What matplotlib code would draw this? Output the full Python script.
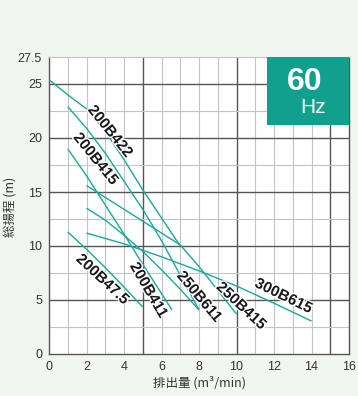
import matplotlib
matplotlib.use("Agg")
import matplotlib.pyplot as plt
import matplotlib.patheffects as pe
from matplotlib.patches import Rectangle

# ---- data ----
q_200B422 = [0, 1, 2, 3, 4, 5, 6, 7]
h_200B422 = [25.4, 24.0, 22.7, 20.6, 18.0, 15.2, 12.6, 10.0]
q_200B415 = [1, 2, 3, 4, 5, 6, 7, 8]
h_200B415 = [22.9, 20.9, 18.6, 16.0, 13.4, 10.5, 7.3, 4.1]
q_200B411 = [1, 2, 3, 4, 5, 6, 6.56]
h_200B411 = [19.0, 16.5, 13.8, 11.1, 8.3, 5.6, 4.07]
q_200B47 = [1, 2, 3, 4, 5]
h_200B47 = [11.3, 9.7, 8.0, 6.2, 4.35]
q_250B415 = [2, 3, 4, 5, 6, 7, 8, 9, 10]
h_250B415 = [15.6, 14.5, 13.4, 12.3, 11.2, 10.1, 8.1, 5.9, 3.7]
q_250B611 = [2, 3, 4, 5, 6, 7, 8]
h_250B611 = [13.5, 12.4, 11.0, 9.5, 7.8, 6.0, 4.07]
q_300B615 = [2, 4, 6, 8, 10, 12, 14]
h_300B615 = [11.2, 10.2, 9.0, 7.7, 6.3, 4.7, 3.05]

series = [
    ("200B422", q_200B422, h_200B422),
    ("200B415", q_200B415, h_200B415),
    ("200B411", q_200B411, h_200B411),
    ("200B47.5", q_200B47, h_200B47),
    ("250B415", q_250B415, h_250B415),
    ("250B611", q_250B611, h_250B611),
    ("300B615", q_300B615, h_300B615),
]

# label placement (data coords, rotation)
labels = [
    ("200B422", 3.25, 20.6, -51),
    ("200B415", 2.48, 18.05, -51),
    ("200B47.5", 2.84, 6.9, -43),
    ("200B411", 5.3, 5.9, -60),
    ("250B611", 8.0, 5.3, -50),
    ("250B415", 10.24, 4.44, -43),
    ("300B615", 12.5, 5.35, -26),
]

x_ticks = [0, 2, 4, 6, 8, 10, 12, 14, 16]
y_ticks = [0, 5, 10, 15, 20, 25, 27.5]
y_tick_labels = ["0", "5", "10", "15", "20", "25", "27.5"]

bg = "#f1f7ef"
teal = "#1aa89a"
dark = "#555555"
light = "#c4c4c4"

fig = plt.figure(figsize=(3.58, 3.96), dpi=100, facecolor=bg)
ax = fig.add_axes([49/358, 42/396, 300/358, 297/396])
ax.set_facecolor("white")
ax.set_xlim(0, 16)
ax.set_ylim(0, 27.5)

# grid
for xv in range(1, 16):
    ax.axvline(xv, color=dark if xv % 5 == 0 else light, lw=1.0 if xv % 5 == 0 else 0.8, zorder=1)
for i in range(1, 11):
    yv = i * 2.5
    ax.axhline(yv, color=dark if i % 2 == 0 else light, lw=1.0 if i % 2 == 0 else 0.8, zorder=1)

for sp in ["left", "bottom", "right"]:
    ax.spines[sp].set_color(dark)
    ax.spines[sp].set_linewidth(1.0)
ax.spines["top"].set_color(light)
ax.spines["top"].set_linewidth(0.8)

for name, q, h in series:
    ax.plot(q, h, color=teal, lw=1.0, zorder=3, solid_capstyle="butt")

for text, x, y, rot in labels:
    ax.text(x, y, text, rotation=rot, rotation_mode="anchor", ha="center", va="center",
            fontsize=11, fontweight="bold", family="Liberation Sans", color="#1a1a1a", zorder=5,
            path_effects=[pe.withStroke(linewidth=2, foreground="white")])

ax.set_xticks(x_ticks)
ax.set_yticks(y_ticks)
ax.set_yticklabels(y_tick_labels)
ax.tick_params(length=0, pad=5, labelsize=9, colors="#333333")
for lab in ax.get_xticklabels() + ax.get_yticklabels():
    lab.set_family("Liberation Sans")

# 60Hz box
ax.add_patch(Rectangle((11.63, 21.2), 16 - 11.63, 27.5 - 21.2, facecolor="#12a08e",
                       edgecolor="none", zorder=6))
ax.text(13.65, 25.2, "60", color="white", fontsize=23, fontweight="bold",
        family="Liberation Sans", ha="center", va="center", zorder=7)
ax.text(14.08, 22.8, "Hz", color="white", fontsize=15,
        family="Liberation Sans", ha="center", va="center", zorder=7)

fig.text(199/358, 1 - 383/396, "排出量 (m³/min)", ha="center", va="center", fontsize=9,
         family=["Noto Sans CJK JP", "DejaVu Sans"], color="#333333")
fig.text(10/358, 1 - 207/396, "総揚程 (m)", ha="center", va="center", fontsize=9, rotation=90,
         family=["Noto Sans CJK JP", "DejaVu Sans"], color="#333333")

fig.savefig("out.png", dpi=100, facecolor=bg)
